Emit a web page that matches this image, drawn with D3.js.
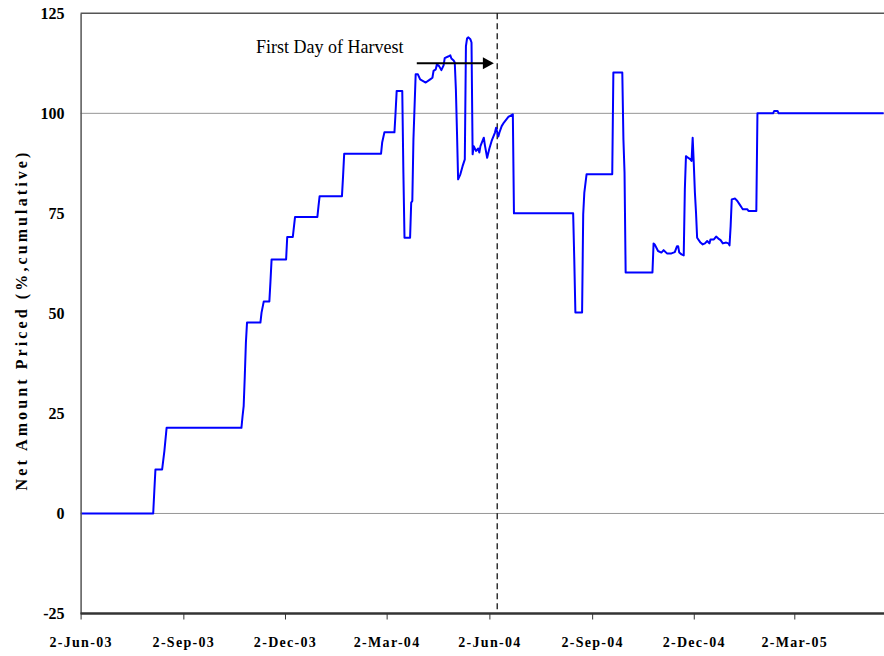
<!DOCTYPE html>
<html>
<head>
<meta charset="utf-8">
<script src="https://cdn.jsdelivr.net/npm/d3@7"></script>
<style>
  html, body { margin: 0; padding: 0; background: #fff; }
  svg { display: block; }
  text { font-family: "Liberation Serif", "Times New Roman", serif; }
</style>
</head>
<body>
<svg id="chart" width="884" height="656"></svg>
<script>
// ---------- data ----------
const dates = [
"2003-06-02","2003-08-06","2003-08-07","2003-08-08","2003-08-14","2003-08-16","2003-08-18",
"2003-10-24","2003-10-25","2003-10-26","2003-10-27","2003-10-28","2003-10-29","2003-11-10",
"2003-11-11","2003-11-13","2003-11-18","2003-11-19","2003-11-20","2003-12-03","2003-12-04",
"2003-12-09","2003-12-11","2003-12-31","2004-01-01","2004-01-02","2004-01-22","2004-01-23",
"2004-01-24","2004-02-26","2004-02-27","2004-02-29","2004-03-09","2004-03-10","2004-03-11",
"2004-03-16","2004-03-17","2004-03-18","2004-03-23","2004-03-24","2004-03-25","2004-03-26",
"2004-03-28","2004-03-30","2004-04-01","2004-04-06","2004-04-10","2004-04-12","2004-04-13",
"2004-04-15","2004-04-16","2004-04-18","2004-04-20","2004-04-22","2004-04-23","2004-04-26",
"2004-04-28","2004-04-29","2004-05-01","2004-05-02","2004-05-03","2004-05-04","2004-05-05",
"2004-05-07","2004-05-09","2004-05-11","2004-05-12","2004-05-13","2004-05-14","2004-05-16",
"2004-05-17","2004-05-18","2004-05-19","2004-05-21","2004-05-23","2004-05-24","2004-05-25",
"2004-05-28","2004-05-29","2004-05-31","2004-06-02","2004-06-04","2004-06-07","2004-06-08",
"2004-06-10","2004-06-11","2004-06-13","2004-06-15","2004-06-19","2004-06-23","2004-06-24",
"2004-08-16","2004-08-17","2004-08-18","2004-08-24","2004-08-25","2004-08-26","2004-08-28",
"2004-09-20","2004-09-21","2004-09-29","2004-09-30","2004-10-01","2004-10-02","2004-10-26",
"2004-10-27","2004-10-28","2004-10-31","2004-11-03","2004-11-05","2004-11-08","2004-11-12",
"2004-11-15","2004-11-17","2004-11-18","2004-11-19","2004-11-21","2004-11-23","2004-11-24",
"2004-11-25","2004-11-26","2004-11-29","2004-11-30","2004-12-01","2004-12-02","2004-12-03",
"2004-12-04","2004-12-05","2004-12-08","2004-12-10","2004-12-12","2004-12-14","2004-12-16",
"2004-12-17","2004-12-20","2004-12-22","2004-12-24","2004-12-26","2004-12-28","2004-12-31",
"2005-01-02","2005-01-03","2005-01-04","2005-01-05","2005-01-08","2005-01-10","2005-01-12",
"2005-01-14","2005-01-15","2005-01-19","2005-01-20","2005-01-27","2005-01-28","2005-02-11",
"2005-02-12","2005-02-15","2005-02-16","2005-05-21"
];
const netPriced = [
0,0,5.6,11,11,15.6,21.4,
21.4,24.3,26.8,34.3,42.7,47.7,47.7,
50.2,53,53,58,63.5,63.5,69.1,
69.1,74.1,74.1,76.8,79.3,79.3,84.3,
89.9,89.9,92.7,95.25,95.25,100.2,105.6,
105.6,85.2,68.9,68.9,77.7,78.1,93.5,
109.75,109.75,108.5,107.7,108.5,108.9,110.6,
111,112.25,111.8,110.8,112,113.8,114.2,
114.5,113.7,113.2,112.7,106,95.2,83.5,
84.75,86.8,88.5,116.8,118.7,119,118.5,
117.7,89.75,91.8,90.6,91.2,90.2,91.8,
93.9,92,88.9,91.2,93.1,95.2,96.4,
94.2,95.2,96.8,97.7,99.1,99.75,75,
75,63.5,50.2,50.2,74.75,80.2,84.75,
84.75,110.2,110.2,93.5,85.2,60.2,60.2,
67.5,67.25,65.6,65.2,65.8,65,65,
65.3,66.8,66.8,65.2,64.75,64.5,81,
89.3,89.1,88.5,88.1,93.9,87.5,80.2,
75.2,68.9,67.7,67.25,67.5,68.1,67.5,
68.5,68.5,69.2,68.7,68.3,67.5,67.7,
67.5,67,71.8,78.5,78.7,78.1,77.25,
76.4,76,76,75.6,75.6,100,100,
100.6,100.6,100,100
];
const xTickDates = ["2003-06-02","2003-09-02","2003-12-02","2004-03-02","2004-06-02","2004-09-02","2004-12-02","2005-03-02"];
const xTickLabels = ["2-Jun-03","2-Sep-03","2-Dec-03","2-Mar-04","2-Jun-04","2-Sep-04","2-Dec-04","2-Mar-05"];
const yTicks = [-25, 0, 25, 50, 75, 100, 125];
const yTickLabels = ["-25", "0", "25", "50", "75", "100", "125"];
const refLines = [0, 100];
const harvestDate = "2004-06-09";
const annotationText = "First Day of Harvest";
const textDate = "2003-11-06", textValue = 115.2;
const arrowFrom = "2004-03-29", arrowTo = "2004-06-06", arrowValue = 112.5;
const yTitle = "Net Amount Priced (%,cumulative)";

// ---------- chart ----------
(function () {
const parse = d3.timeParse("%Y-%m-%d");
const W = 884, H = 656;
const pL = 80.6, pR = 884, pT = 13.3, pB = 613.5;
const svg = d3.select("#chart");

const x = d3.scaleTime()
  .domain([parse(xTickDates[0]), parse(xTickDates[xTickDates.length - 1])])
  .range([pL, 794.3]);
const y = d3.scaleLinear().domain([-25, 125]).range([pB, pT]);

svg.append("defs").append("clipPath").attr("id", "clip")
  .append("rect").attr("x", pL).attr("y", 0).attr("width", pR - pL).attr("height", H);

// reference gridlines
svg.selectAll("line.ref").data(refLines).join("line")
  .attr("class", "ref")
  .attr("x1", pL).attr("x2", pR)
  .attr("y1", d => y(d)).attr("y2", d => y(d))
  .attr("stroke", "#969696").attr("stroke-width", 1);

// top border
svg.append("line").attr("x1", pL).attr("x2", pR)
  .attr("y1", y(125)).attr("y2", y(125))
  .attr("stroke", "#555").attr("stroke-width", 1.5);

// harvest dashed line
svg.append("line")
  .attr("x1", x(parse(harvestDate))).attr("x2", x(parse(harvestDate)))
  .attr("y1", y(125)).attr("y2", y(-25))
  .attr("stroke", "#000").attr("stroke-width", 1.2)
  .attr("stroke-dasharray", "6,4");

// data line
const series = dates.map((d, i) => ({ date: parse(d), value: netPriced[i] }));
svg.append("path").datum(series)
  .attr("clip-path", "url(#clip)")
  .attr("fill", "none").attr("stroke", "#0000FF").attr("stroke-width", 2)
  .attr("stroke-linejoin", "round")
  .attr("d", d3.line().x(d => x(d.date)).y(d => y(d.value)));

// y axis
const yAxis = svg.append("g").attr("transform", `translate(${pL},0)`)
  .call(d3.axisLeft(y).tickValues(yTicks).tickSize(0).tickPadding(16)
    .tickFormat((d, i) => yTickLabels[i]));
yAxis.select(".domain").attr("stroke", "#555").attr("stroke-width", 1.5);
yAxis.selectAll("text").attr("font-size", 16).attr("font-weight", "bold")
  .attr("font-family", "Liberation Serif, serif").attr("fill", "#000");

// x axis
const xAxis = svg.append("g").attr("transform", `translate(0,${pB})`)
  .call(d3.axisBottom(x).tickValues(xTickDates.map(parse)).tickSize(6).tickPadding(18)
    .tickFormat((d, i) => xTickLabels[i]));
xAxis.select(".domain").attr("d", `M${pL},0H${pR}`).attr("stroke", "#333").attr("stroke-width", 2.5);
xAxis.selectAll(".tick line").attr("stroke", "#333").attr("stroke-width", 1);
xAxis.selectAll("text").attr("font-size", 14).attr("font-weight", "bold")
  .attr("font-family", "Liberation Serif, serif").attr("fill", "#000")
  .attr("letter-spacing", "1.3px");

// y title
svg.append("text")
  .attr("transform", `translate(27,${(148 + 492) / 2}) rotate(-90)`)
  .attr("text-anchor", "middle")
  .attr("font-size", 16).attr("font-weight", "bold")
  .attr("letter-spacing", "3.1px")
  .text(yTitle);

// annotation
svg.append("text")
  .attr("x", x(parse(textDate))).attr("y", y(textValue))
  .attr("font-size", 18)
  .text(annotationText);

const ax1 = x(parse(arrowFrom)), ax2 = x(parse(arrowTo)), ay = y(arrowValue);
svg.append("line").attr("x1", ax1).attr("x2", ax2 - 10).attr("y1", ay).attr("y2", ay)
  .attr("stroke", "#000").attr("stroke-width", 2);
svg.append("path")
  .attr("d", `M${ax2 - 11},${ay - 6}L${ax2},${ay}L${ax2 - 11},${ay + 6}Z`)
  .attr("fill", "#000");
})();
</script>
</body>
</html>
